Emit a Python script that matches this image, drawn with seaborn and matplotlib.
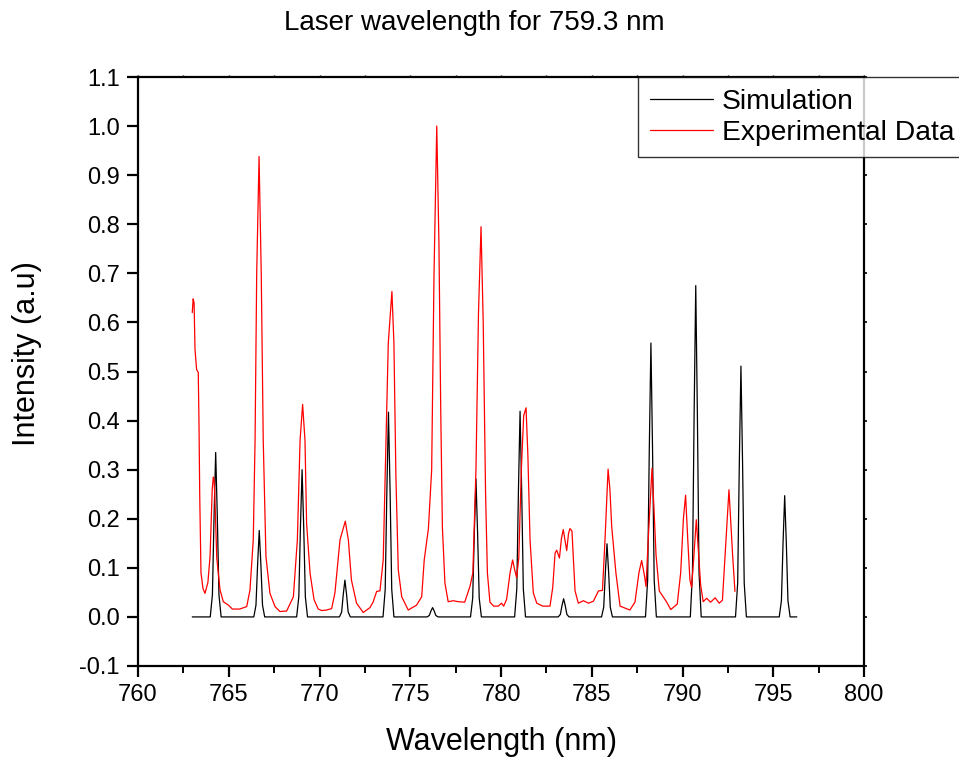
import matplotlib
matplotlib.use("Agg")
import matplotlib.pyplot as plt
import seaborn as sns
import numpy as np
from matplotlib.ticker import MultipleLocator

# ---------------- data ----------------
sim_wavelength = [
    762.99,
    763.98, 764.10, 764.19, 764.28, 764.37, 764.46, 764.58,
    766.38, 766.50, 766.59, 766.68, 766.77, 766.86, 766.98,
    768.74, 768.86, 768.95, 769.04, 769.13, 769.22, 769.34,
    771.10, 771.22, 771.31, 771.40, 771.49, 771.58, 771.70,
    773.50, 773.62, 773.71, 773.80, 773.89, 773.98, 774.10,
    775.93, 776.05, 776.14, 776.23, 776.32, 776.41, 776.53,
    778.32, 778.44, 778.53, 778.62, 778.71, 778.80, 778.92,
    780.75, 780.87, 780.96, 781.05, 781.14, 781.23, 781.35,
    783.15, 783.27, 783.36, 783.45, 783.54, 783.63, 783.75,
    785.54, 785.66, 785.75, 785.84, 785.93, 786.02, 786.14,
    787.96, 788.08, 788.17, 788.26, 788.35, 788.44, 788.56,
    790.43, 790.55, 790.64, 790.73, 790.82, 790.91, 791.03,
    792.92, 793.04, 793.13, 793.22, 793.31, 793.40, 793.52,
    795.33, 795.45, 795.54, 795.63, 795.72, 795.81, 795.93,
    796.30,
]
sim_intensity = [
    0.0,
    0.0, 0.045, 0.204, 0.335, 0.204, 0.045, 0.0,
    0.0, 0.024, 0.107, 0.176, 0.107, 0.024, 0.0,
    0.0, 0.041, 0.183, 0.300, 0.183, 0.041, 0.0,
    0.0, 0.010, 0.046, 0.075, 0.046, 0.010, 0.0,
    0.0, 0.056, 0.254, 0.417, 0.254, 0.056, 0.0,
    0.0, 0.003, 0.012, 0.019, 0.012, 0.003, 0.0,
    0.0, 0.038, 0.171, 0.281, 0.171, 0.038, 0.0,
    0.0, 0.057, 0.256, 0.419, 0.256, 0.057, 0.0,
    0.0, 0.005, 0.023, 0.037, 0.023, 0.005, 0.0,
    0.0, 0.020, 0.091, 0.149, 0.091, 0.020, 0.0,
    0.0, 0.075, 0.340, 0.558, 0.340, 0.075, 0.0,
    0.0, 0.091, 0.412, 0.675, 0.412, 0.091, 0.0,
    0.0, 0.069, 0.312, 0.511, 0.312, 0.069, 0.0,
    0.0, 0.033, 0.151, 0.247, 0.151, 0.033, 0.0,
    0.0,
]

exp_wavelength = [
    762.99, 763.04, 763.09, 763.14, 763.23, 763.32, 763.36, 763.40, 763.47, 763.58,
    763.69, 763.85, 763.97, 764.09, 764.15, 764.19, 764.23, 764.34, 764.52, 764.70,
    764.98, 765.20, 765.60, 765.99, 766.17, 766.35, 766.45, 766.54, 766.67, 766.79,
    766.90, 767.05, 767.27, 767.55, 767.82, 768.19, 768.56, 768.78, 768.93, 769.07,
    769.20, 769.29, 769.48, 769.70, 769.93, 770.12, 770.39, 770.67, 770.85, 771.13,
    771.42, 771.59, 771.76, 772.04, 772.41, 772.78, 772.95, 773.15, 773.33, 773.51,
    773.66, 773.79, 773.99, 774.10, 774.21, 774.34, 774.53, 774.89, 775.35, 775.63,
    775.77, 776.00, 776.18, 776.31, 776.46, 776.58, 776.68, 776.77, 776.91, 777.09,
    777.37, 777.65, 778.00, 778.29, 778.45, 778.62, 778.76, 778.90, 779.02, 779.15,
    779.25, 779.39, 779.60, 779.85, 780.03, 780.15, 780.31, 780.50, 780.64, 780.76,
    780.86, 780.98, 781.12, 781.25, 781.38, 781.48, 781.60, 781.78, 781.97, 782.30,
    782.70, 782.85, 782.98, 783.07, 783.22, 783.33, 783.43, 783.53, 783.62, 783.72,
    783.80, 783.91, 784.08, 784.26, 784.54, 784.82, 785.09, 785.37, 785.59, 785.73,
    785.90, 786.00, 786.10, 786.33, 786.56, 787.10, 787.38, 787.60, 787.75, 787.90,
    787.99, 788.11, 788.32, 788.43, 788.54, 788.72, 789.13, 789.35, 789.71, 789.90,
    790.05, 790.17, 790.30, 790.41, 790.50, 790.62, 790.76, 790.88, 791.00, 791.14,
    791.33, 791.55, 791.80, 792.02, 792.20, 792.40, 792.56, 792.68, 792.76, 792.89,
]
exp_intensity = [
    0.620, 0.648, 0.640, 0.545, 0.504, 0.498, 0.396, 0.250, 0.090, 0.058,
    0.048, 0.070, 0.123, 0.260, 0.285, 0.280, 0.250, 0.120, 0.055, 0.031,
    0.024, 0.016, 0.016, 0.021, 0.055, 0.157, 0.360, 0.700, 0.938, 0.700,
    0.360, 0.123, 0.048, 0.021, 0.011, 0.012, 0.041, 0.157, 0.360, 0.433,
    0.360, 0.190, 0.089, 0.035, 0.016, 0.013, 0.014, 0.017, 0.049, 0.157,
    0.195, 0.157, 0.075, 0.028, 0.009, 0.019, 0.030, 0.052, 0.053, 0.116,
    0.354, 0.558, 0.663, 0.558, 0.286, 0.096, 0.041, 0.014, 0.024, 0.041,
    0.116, 0.180, 0.300, 0.700, 1.000, 0.763, 0.420, 0.184, 0.069, 0.031,
    0.033, 0.031, 0.030, 0.062, 0.090, 0.300, 0.620, 0.795, 0.600, 0.250,
    0.090, 0.030, 0.022, 0.022, 0.028, 0.022, 0.036, 0.090, 0.116, 0.095,
    0.080, 0.120, 0.300, 0.410, 0.426, 0.330, 0.157, 0.049, 0.028, 0.022,
    0.022, 0.060, 0.130, 0.136, 0.120, 0.160, 0.178, 0.155, 0.135, 0.170,
    0.180, 0.175, 0.053, 0.028, 0.033, 0.028, 0.032, 0.053, 0.054, 0.157,
    0.301, 0.260, 0.184, 0.090, 0.022, 0.014, 0.030, 0.090, 0.115, 0.085,
    0.062, 0.157, 0.303, 0.220, 0.127, 0.053, 0.030, 0.015, 0.026, 0.090,
    0.200, 0.248, 0.150, 0.075, 0.060, 0.120, 0.198, 0.130, 0.065, 0.031,
    0.038, 0.030, 0.039, 0.028, 0.034, 0.157, 0.259, 0.180, 0.127, 0.052,
]

series_labels = ["Simulation", "Experimental Data"]
x_ticks = [760, 765, 770, 775, 780, 785, 790, 795, 800]
y_ticks = [-0.1, 0.0, 0.1, 0.2, 0.3, 0.4, 0.5, 0.6, 0.7, 0.8, 0.9, 1.0, 1.1]

title_text = "Laser wavelength for 759.3 nm"
x_label = "Wavelength (nm)"
y_label = "Intensity (a.u)"

# ---------------- styling ----------------
sns.set_style("ticks")
plt.rcParams["font.family"] = ["Liberation Sans", "DejaVu Sans"]
plt.rcParams["text.color"] = "black"
plt.rcParams["axes.labelcolor"] = "black"
plt.rcParams["xtick.color"] = "black"
plt.rcParams["ytick.color"] = "black"

fig = plt.figure(figsize=(9.59, 7.59), dpi=100)
ax = fig.add_axes([138 / 959, 1 - 666 / 759, (864 - 138) / 959, (666 - 77) / 759])

sns.lineplot(x=sim_wavelength, y=sim_intensity, ax=ax, color="black",
             linewidth=0.9, sort=False, estimator=None, label=series_labels[0])
sns.lineplot(x=exp_wavelength, y=exp_intensity, ax=ax, color="#ff0000",
             linewidth=0.9, sort=False, estimator=None, label=series_labels[1])

ax.set_xlim(760, 800)
ax.set_ylim(-0.1, 1.1)
ax.set_xticks(x_ticks)
ax.set_xticklabels([str(t) for t in x_ticks])
ax.set_yticks(y_ticks)
ax.set_yticklabels([f"{t:.1f}" for t in y_ticks])
ax.xaxis.set_minor_locator(MultipleLocator(2.5))

for s in ax.spines.values():
    s.set_visible(True)
    s.set_linewidth(1.6)
    s.set_color("black")

ax.tick_params(axis="both", which="major", direction="out", length=8, width=1.6,
               labelsize=17, colors="black", pad=5)
ax.tick_params(axis="x", which="minor", direction="out", length=5, width=1.4)
ax.tick_params(axis="x", which="both", top=True, labeltop=False)
ax.tick_params(axis="y", which="major", right=True, labelright=False)
# tiny ticks on the top and right frame, as in the reference
for t in ax.xaxis.get_major_ticks() + ax.xaxis.get_minor_ticks():
    t.tick2line.set_markersize(1.5)
    t.tick2line.set_markeredgewidth(1.0)
for t in ax.yaxis.get_major_ticks():
    t.tick2line.set_markersize(2)
    t.tick2line.set_markeredgewidth(1.2)

ax.set_xlabel(x_label, fontsize=22)
ax.set_ylabel(y_label, fontsize=22)
ax.xaxis.set_label_coords(0.5, -0.104)
ax.yaxis.set_label_coords(-0.132, 0.53)

fig.text(474 / 959, 1 - 23 / 759, title_text, fontsize=20, ha="center", va="center")

leg = ax.legend(loc="upper left", bbox_to_anchor=((638 - 138) / 726, 1.0),
                borderaxespad=0, frameon=True, fancybox=False, fontsize=20.3,
                handlelength=2.25, handletextpad=0.3, borderpad=0.42,
                labelspacing=0.17)
leg.get_frame().set_edgecolor("black")
leg.get_frame().set_linewidth(1.0)
for line in leg.get_lines():
    line.set_linewidth(0.9)

fig.savefig("out.png", dpi=100)
